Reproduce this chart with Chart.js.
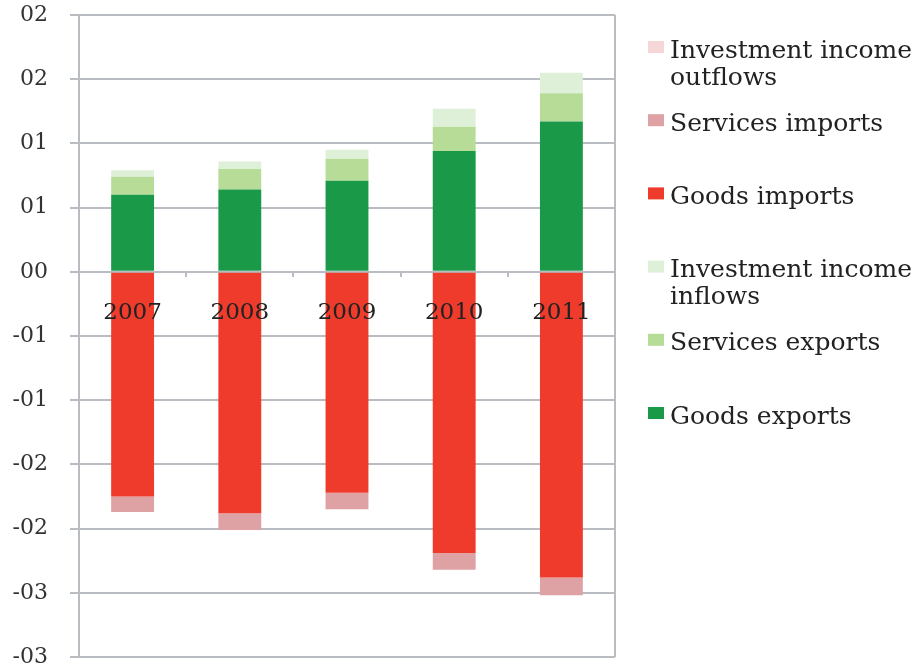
<!DOCTYPE html>
<html lang="en">
<head>
<meta charset="UTF-8">
<title>Trade flows 2007-2011</title>
<script src="https://cdn.jsdelivr.net/npm/chart.js@4.4.1/dist/chart.umd.min.js"></script>
<style>
    html, body { margin: 0; padding: 0; background: #fff; }
    #wrap { position: relative; width: 919px; height: 669px; }
</style>
</head>
<body>
<div id="wrap"><canvas id="chartFlows"></canvas></div>
<script>
// --- DATA ---
const years = ['2007', '2008', '2009', '2010', '2011'];
const goodsExports = [0.60, 0.64, 0.71, 0.94, 1.17];
const servicesExports = [0.14, 0.16, 0.17, 0.19, 0.22];
const incomeInflows = [0.05, 0.06, 0.07, 0.14, 0.16];
const goodsImports = [-1.75, -1.88, -1.72, -2.19, -2.38];
const servicesImports = [-0.12, -0.13, -0.13, -0.13, -0.14];
const incomeOutflows = [0, 0, 0, 0, 0];

// tick labels as printed on the original axis (-3 .. 2, step 0.5)
const yTickLabels = ['-03', '-03', '-02', '-02', '-01', '-01', '00', '01', '01', '02', '02'];

const GRID = '#b9bcc0';
const SERIF = '"DejaVu Serif", serif';

// ================= 1. LEGEND + FRAME (custom plugin) =================
const legendLateral = {
    id: 'legendLateral',
    afterDraw(chart) {
        const ctx = chart.ctx;
        const area = chart.chartArea;

        // right edge of the plot box
        ctx.save();
        ctx.strokeStyle = GRID;
        ctx.lineWidth = 2;
        ctx.beginPath();
        ctx.moveTo(area.right, area.top);
        ctx.lineTo(area.right, area.bottom);
        ctx.stroke();

        // legend, reverse order of the stack
        const sets = chart.data.datasets.slice().reverse();
        const x0 = area.right + 33;
        const textX = x0 + 22;
        const maxW = chart.width - textX - 2;
        ctx.font = '25px ' + SERIF;
        ctx.textBaseline = 'middle';

        sets.forEach((ds, i) => {
            const cy = 47 + i * 73.2;
            ctx.fillStyle = ds.backgroundColor;
            ctx.fillRect(x0, cy - 6, 16, 12);

            // wrap the label if it is too wide
            const words = ds.label.split(' ');
            const lines = [];
            let current = '';
            words.forEach(w => {
                const test = current ? current + ' ' + w : w;
                if (ctx.measureText(test).width > maxW && current) {
                    lines.push(current);
                    current = w;
                } else {
                    current = test;
                }
            });
            lines.push(current);

            ctx.fillStyle = '#222';
            lines.forEach((line, j) => {
                ctx.fillText(line, textX, cy + 4 + j * 27);
            });
        });
        ctx.restore();
    }
};

// ================= 2. CHART =================
const ctxFlows = document.getElementById('chartFlows').getContext('2d');

function bar(label, data, color) {
    return {
        label: label,
        data: data,
        backgroundColor: color,
        borderWidth: 0,
        categoryPercentage: 1.0,
        barPercentage: 0.4
    };
}

new Chart(ctxFlows, {
    type: 'bar',
    data: {
        labels: years,
        datasets: [
            bar('Goods exports', goodsExports, '#1a9a48'),
            bar('Services exports', servicesExports, '#b7dc98'),
            bar('Investment income inflows', incomeInflows, '#dff0d9'),
            bar('Goods imports', goodsImports, '#ee3b2b'),
            bar('Services imports', servicesImports, '#dfa2a4'),
            bar('Investment income outflows', incomeOutflows, '#f6d6d6')
        ]
    },
    options: {
        responsive: true,
        maintainAspectRatio: false,
        animation: false,
        layout: { padding: { left: 0, right: 304, top: 15, bottom: 12 } },
        plugins: {
            legend: { display: false },
            tooltip: { enabled: false }
        },
        scales: {
            x: {
                stacked: true,
                position: { y: 0 },
                afterFit(scale) { scale.height = 0; },
                border: { display: false },
                grid: {
                    display: true,
                    offset: true,
                    drawOnChartArea: false,
                    drawTicks: true,
                    tickLength: 5,
                    color: GRID,
                    lineWidth: 2
                },
                ticks: {
                    z: 1,
                    color: '#222',
                    font: { family: SERIF, size: 23 },
                    padding: 22,
                    maxRotation: 0
                }
            },
            y: {
                stacked: true,
                min: -3,
                max: 2,
                afterFit(scale) {
                    scale.width = 79;
                    // the tick padding should not push the plot box down
                    scale.paddingTop = 0;
                    scale.paddingBottom = 0;
                },
                border: { display: true, color: GRID, width: 2 },
                grid: {
                    color: GRID,
                    lineWidth: 2,
                    tickLength: 9
                },
                ticks: {
                    stepSize: 0.5,
                    color: '#333',
                    padding: 22,
                    font: { family: SERIF, size: 22 },
                    callback: (value, index) => yTickLabels[index]
                }
            }
        }
    },
    plugins: [legendLateral]
});
</script>
</body>
</html>
